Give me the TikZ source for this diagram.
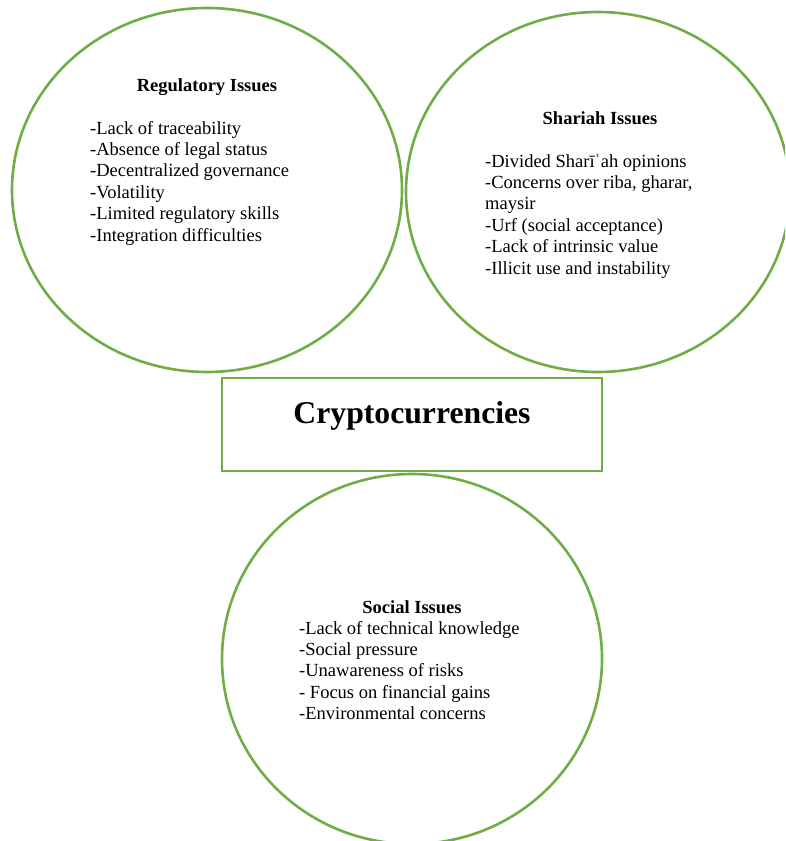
\documentclass[tikz,border=0pt]{standalone}
\usepackage{fontspec}
\setmainfont{Liberation Serif}
\usetikzlibrary{shapes.geometric}
\definecolor{LeafGreen}{HTML}{70AD47}

\begin{document}
\begin{tikzpicture}[x=1pt,y=-1pt,
  issue/.style={ellipse,draw=LeafGreen,line width=2.6pt,inner sep=0pt},
  heading/.style={font=\bfseries\fontsize{18.5}{21.4}\selectfont,anchor=base,inner sep=0pt},
  items/.style={font=\fontsize{18.5}{21.4}\selectfont,align=left,anchor=base west,inner sep=0pt}]
\clip (0,0) rectangle (785,841);
\useasboundingbox (0,0) rectangle (785,841);

\node[issue,minimum width=390pt,minimum height=364pt] (regulatory) at (207,190) {};
\node[issue,minimum width=384pt,minimum height=360pt] (shariah) at (598,192) {};
\node[issue,minimum width=380pt,minimum height=370pt] (social) at (412,659) {};
\node[draw=LeafGreen,line width=2.6pt,minimum width=380pt,minimum height=93pt,inner sep=0pt] (crypto) at (412,424.5) {};

\node[font=\bfseries\fontsize{31.7}{36}\selectfont,anchor=base,inner sep=0pt] (cryptolabel) at (412,423) {Cryptocurrencies};

% lists are placed by the baseline of their last line
\node[heading] (regulatorytitle) at (207,91) {Regulatory Issues};
\node[items] (regulatorylist) at (90,241) {-Lack of traceability\\-Absence of legal status\\-Decentralized governance\\-Volatility\\-Limited regulatory skills\\-Integration difficulties};

\node[heading] (shariahtitle) at (600,124) {Shariah Issues};
\node[items] (shariahlist) at (485,274) {-Divided Sharīʿah opinions\\-Concerns over riba, gharar,\\maysir\\-Urf (social acceptance)\\-Lack of intrinsic value\\-Illicit use and instability};

\node[heading] (socialtitle) at (412,613) {Social Issues};
\node[items] (sociallist) at (299,719.6) {-Lack of technical knowledge\\-Social pressure\\-Unawareness of risks\\- Focus on financial gains\\-Environmental concerns};
\end{tikzpicture}
\end{document}
